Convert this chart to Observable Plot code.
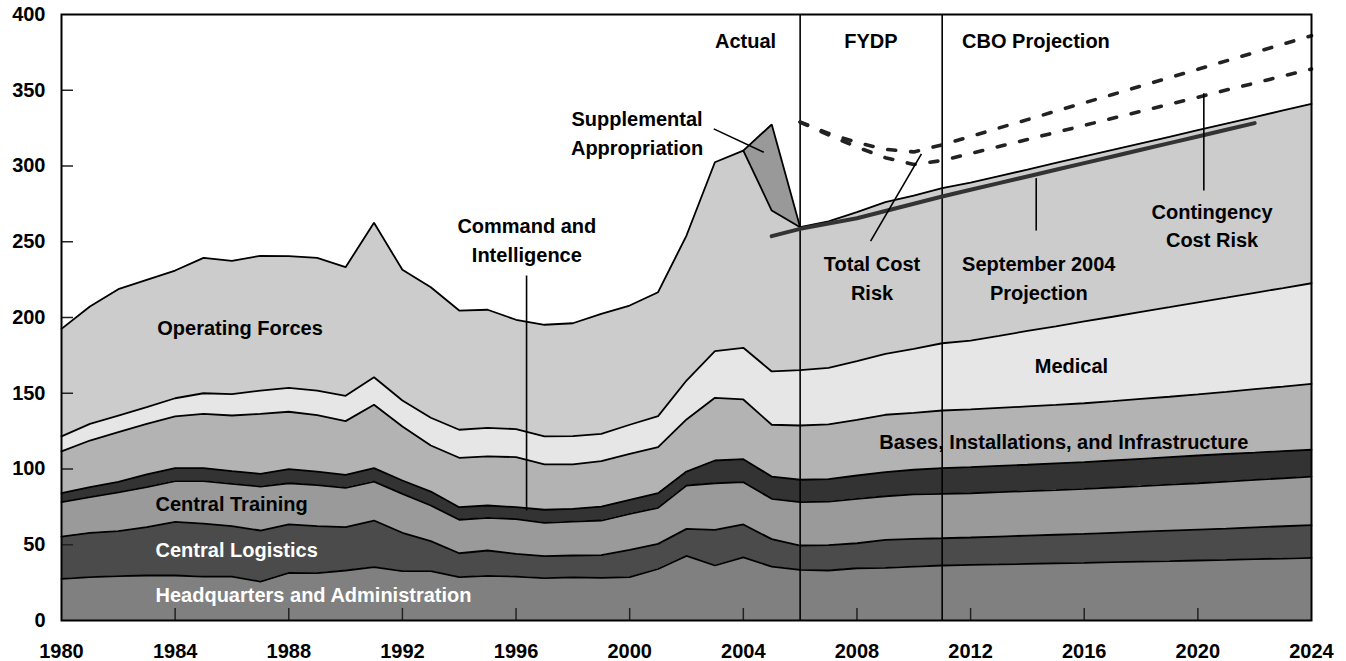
<!DOCTYPE html>
<html>
<head>
<meta charset="utf-8">
<script src="https://cdn.jsdelivr.net/npm/d3@7"></script>
<script src="https://cdn.jsdelivr.net/npm/@observablehq/plot@0.6"></script>
<style>
  html, body { margin: 0; padding: 0; background: #fff; }
  #chart { width: 1346px; height: 661px; }
</style>
</head>
<body>
<div id="chart"></div>
<script>
// ---------- Data (billions of dollars) ----------
const years = d3.range(1980, 2025);

const hq = [27.5,28.6,29.3,29.7,29.7,29.0,29.0,25.7,31.5,31.3,33.0,35.2,32.6,32.6,28.6,29.5,29.0,28.0,28.4,28.2,28.6,34.0,42.7,36.3,41.6,35.6,33.4,33.0,34.5,34.8,35.6,36.3,36.7,37.0,37.4,37.8,38.1,38.5,38.9,39.2,39.6,40.0,40.5,40.9,41.4];
const logistics = [27.9,29.3,29.7,31.9,35.4,35.0,33.3,33.7,31.9,31.0,28.6,30.8,25.3,19.8,15.8,16.7,15.0,14.5,14.5,14.9,18.0,16.6,17.8,23.5,21.8,18.1,16.1,16.8,16.5,18.4,18.3,18.0,18.1,18.4,18.6,18.8,19.1,19.4,19.7,20.1,20.4,20.7,21.0,21.3,21.5];
const training = [22.7,23.5,25.5,26.4,26.9,28.0,27.9,29.0,27.2,27.0,26.0,25.7,25.7,23.5,22.1,21.6,22.9,22.0,22.4,22.9,23.8,23.8,28.6,30.8,27.9,26.6,28.6,28.7,29.3,28.8,29.3,29.3,29.2,29.3,29.4,29.5,29.7,29.9,30.1,30.4,30.6,31.0,31.3,31.7,32.1];
const command = [5.9,6.6,7.0,8.4,8.6,8.6,8.4,8.4,9.3,9.0,8.5,8.9,8.8,9.2,8.3,8.1,7.9,8.6,8.4,9.2,9.2,9.6,9.2,15.0,15.2,14.7,14.8,14.8,15.4,15.9,16.3,17.0,17.2,17.3,17.4,17.6,17.6,17.8,18.0,18.1,18.3,18.2,18.0,17.9,17.7];
const bases = [27.6,30.8,32.8,33.4,34.1,35.8,36.7,39.6,37.9,37.2,35.5,41.8,35.6,30.4,32.6,32.4,33.0,29.9,29.3,30.0,30.4,30.4,34.4,41.4,39.4,34.2,35.8,36.1,36.8,37.9,37.6,38.0,38.1,38.3,38.5,38.6,38.9,39.2,39.6,39.9,40.3,41.0,41.9,42.6,43.5];
const medical = [9.9,11.0,11.0,11.0,12.0,13.6,14.1,15.4,15.8,16.3,16.7,18.2,17.2,18.3,18.5,18.9,18.5,18.5,18.7,18.0,19.2,20.5,25.7,30.8,34.1,35.2,36.5,37.4,38.7,40.2,42.2,44.4,45.5,47.6,49.8,51.9,54.0,55.7,57.4,59.1,60.8,62.2,63.6,65.0,66.4];
const operating = [71.0,77.5,83.4,84.1,84.3,89.4,88.0,88.9,86.9,87.6,84.9,101.9,86.3,86.2,78.7,77.9,72.2,73.7,74.5,79.2,78.7,81.8,95.7,124.7,130.2,106.2,94.4,96.6,98.3,100.1,101.2,102.4,104.2,105.4,106.5,107.8,108.9,110.1,111.3,112.5,113.7,114.9,116.0,117.3,118.4];

const supplementalYears = [2004, 2005, 2006];
const supplemental = [0, 56.8, 0];

const sep2004Years = d3.range(2005, 2023);
const sep2004Projection = [253.7,258.5,262.0,265.5,270.3,275.1,279.9,284.3,288.7,293.1,297.5,301.9,306.3,310.7,315.1,319.5,323.9,328.3];

const riskYears = d3.range(2006, 2025);
const totalCostRisk = [329,321.5,315.5,311,309.3,314,319.5,325.1,330.6,336.2,341.7,347.2,352.8,358.3,363.8,369.4,374.9,380.5,386];
const contingencyCostRisk = [329,320.5,312.5,305.5,301,303.6,308.2,312.9,317.5,322.2,326.8,331.5,336.1,340.8,345.4,350.1,354.7,359.4,364];

const layerNames = ["Headquarters and Administration","Central Logistics","Central Training","Command and Intelligence","Bases, Installations, and Infrastructure","Medical","Operating Forces","Supplemental Appropriation"];
const layerColors = ["#808080","#4b4b4b","#9a9a9a","#333333","#b3b3b3","#e6e6e6","#cccccc","#999999"];

const periodBreaks = [2006, 2011];
const xTicks = d3.range(1980, 2025, 4);
const yTicks = d3.range(0, 401, 50);

// ---------- Build tidy table ----------
const series = [hq, logistics, training, command, bases, medical, operating];
const rows = [];
series.forEach((vals, s) => years.forEach((yr, i) => rows.push({year: yr, layer: layerNames[s], value: vals[i]})));
supplementalYears.forEach((yr, i) => rows.push({year: yr, layer: layerNames[7], value: supplemental[i]}));

const sepRows = sep2004Years.map((yr, i) => ({year: yr, value: sep2004Projection[i]}));
const riskRows = [
  ...riskYears.map((yr, i) => ({year: yr, value: totalCostRisk[i], s: "total"})),
  ...riskYears.map((yr, i) => ({year: yr, value: contingencyCostRisk[i], s: "contingency"}))
];

// Annotations (placed in data coordinates)
const leftLabels = [
  {t: "Operating Forces", x: 1983.37, y: 192.7, c: "black"},
  {t: "Central Training", x: 1983.31, y: 76.2, c: "black"},
  {t: "Central Logistics", x: 1983.31, y: 45.9, c: "white"},
  {t: "Headquarters and Administration", x: 1983.31, y: 16.5, c: "white"}
];
const centerLabels = [
  {t: "Medical", x: 2015.55, y: 169.8},
  {t: "Bases, Installations, and Infrastructure", x: 2015.28, y: 119.1},
  {t: "Actual", x: 2004.08, y: 384.3},
  {t: "FYDP", x: 2008.49, y: 384.3},
  {t: "CBO Projection", x: 2014.3, y: 384.3},
  {t: "Supplemental\nAppropriation", x: 2000.26, y: 323.0},
  {t: "Command and\nIntelligence", x: 1996.38, y: 252.5},
  {t: "Total Cost\nRisk", x: 2008.53, y: 227.2},
  {t: "September 2004\nProjection", x: 2014.4, y: 227.2},
  {t: "Contingency\nCost Risk", x: 2020.5, y: 261.9}
];
const leaders = [
  {x1: 2002.96, y1: 324.5, x2: 2004.72, y2: 309.1},
  {x1: 1996.37, y1: 227.7, x2: 1996.37, y2: 72.6},
  {x1: 2010.27, y1: 308.0, x2: 2008.48, y2: 250.4},
  {x1: 2014.31, y1: 292.0, x2: 2014.31, y2: 257.4},
  {x1: 2020.21, y1: 348.1, x2: 2020.21, y2: 283.8}
];

const font = "'Liberation Sans', Arial, sans-serif";
const plotW = 1346 - 61 - 35;
const plotH = 661 - 14 - 41;
const tickLen = 12;

const chart = Plot.plot({
  width: 1346,
  height: 661,
  marginLeft: 61,
  marginRight: 35,
  marginTop: 14,
  marginBottom: 41,
  style: {fontFamily: font, fontSize: "20px", fontWeight: "bold", background: "#fff", color: "#000", overflow: "visible"},
  x: {domain: [1980, 2024]},
  y: {domain: [0, 400]},
  color: {domain: layerNames, range: layerColors},
  marks: [
    Plot.areaY(rows, {x: "year", y: "value", z: "layer", fill: "layer", order: layerNames}),
    Plot.lineY(rows, Plot.stackY2({x: "year", y: "value", z: "layer", order: layerNames, stroke: "#000", strokeWidth: 1.8, strokeLinejoin: "miter"})),
    Plot.ruleX(periodBreaks, {stroke: "#000", strokeWidth: 1.6}),
    Plot.tickY(yTicks.filter(d => d > 0 && d < 400), {y: d => d, stroke: "#222", strokeWidth: 1.5, insetRight: plotW - tickLen}),
    Plot.tickX(xTicks.filter(d => d > 1980 && d < 2024), {x: d => d, stroke: "#222", strokeWidth: 1.5, insetTop: plotH - tickLen}),
    Plot.lineY(riskRows, {x: "year", y: "value", z: "s", stroke: "#222", strokeWidth: 3.6, strokeDasharray: "8,15"}),
    Plot.lineY(sepRows, {x: "year", y: "value", stroke: "#333", strokeWidth: 4}),
    Plot.frame({stroke: "#000", strokeWidth: 2}),
    Plot.link(leaders, {x1: "x1", y1: "y1", x2: "x2", y2: "y2", stroke: "#000", strokeWidth: 1.6}),
    Plot.text(leftLabels, {x: "x", y: "y", text: "t", textAnchor: "start", fill: "c", fontSize: 20, fontWeight: "bold", fontFamily: font}),
    Plot.text(centerLabels, {x: "x", y: "y", text: "t", textAnchor: "middle", fill: "#000", fontSize: 20, fontWeight: "bold", lineHeight: 1.45, fontFamily: font}),
    Plot.axisY(yTicks, {tickSize: 0, tickPadding: 16, fontSize: 20, fontWeight: "bold", label: null, fill: "#000"}),
    Plot.axisX(xTicks, {tickSize: 0, tickPadding: 23, fontSize: 20, fontWeight: "bold", label: null, fill: "#000", tickFormat: d => String(d)})
  ]
});

document.getElementById("chart").appendChild(chart);
</script>
</body>
</html>
